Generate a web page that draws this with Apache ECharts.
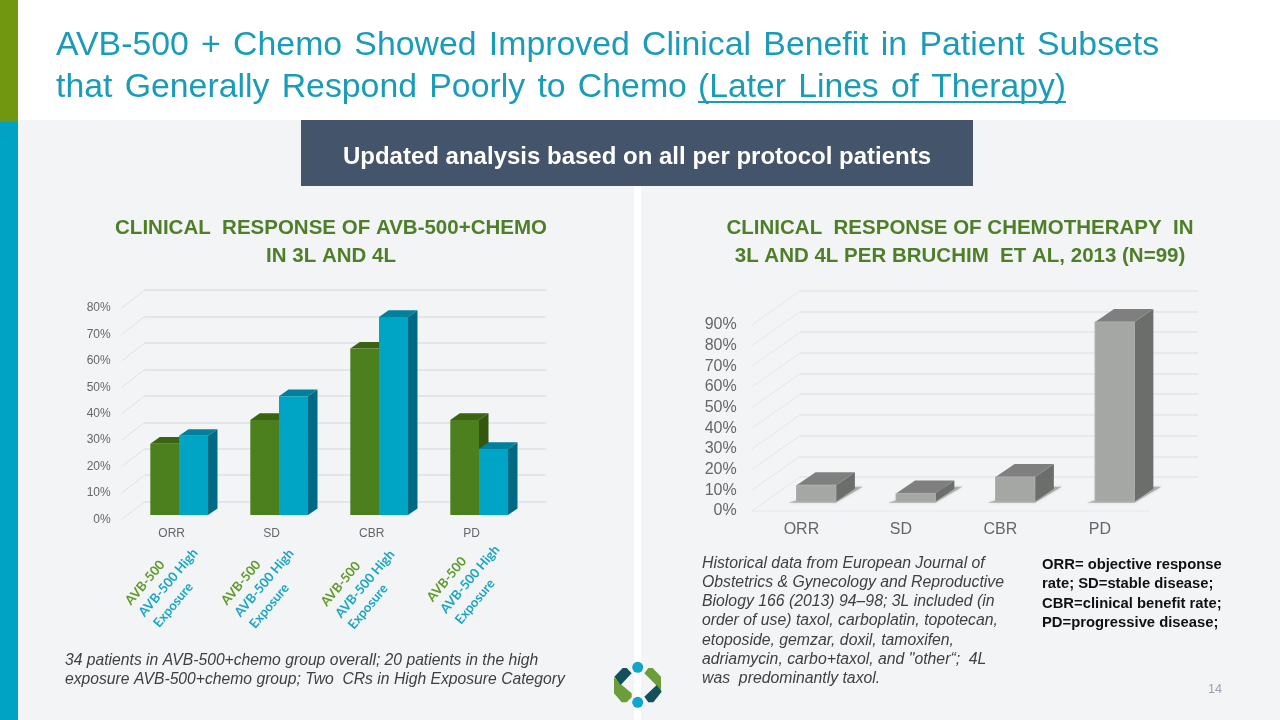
<!DOCTYPE html>
<html>
<head>
<meta charset="utf-8">
<style>html,body{margin:0;padding:0;background:#F2F4F6}#main{width:1280px;height:720px}</style>
<script src="https://cdn.jsdelivr.net/npm/echarts@6/dist/echarts.min.js"></script>
</head>
<body>
<div id="main"></div>
<script>
// ---- data ----
const leftCategories = ['ORR', 'SD', 'CBR', 'PD'];
const avb500Values = [27, 36, 63, 36];
const avb500HighValues = [30, 45, 75, 25];
const leftYTicks = [0, 10, 20, 30, 40, 50, 60, 70, 80];
const rightCategories = ['ORR', 'SD', 'CBR', 'PD'];
const chemoValues = [8, 4, 12, 87];
const rightYTicks = [0, 10, 20, 30, 40, 50, 60, 70, 80, 90];
const HS = '\u200A';
const titleLines = ['AVB-500 + Chemo Showed Improved Clinical Benefit in Patient Subsets',
                    'that Generally Respond Poorly to Chemo'];
const titleUnderlined = '(Later Lines of Therapy)';
const banner = 'Updated analysis based on all per protocol patients';
const leftHeading = 'CLINICAL  RESPONSE OF AVB-500+CHEMO\nIN 3L AND 4L';
const rightHeading = 'CLINICAL  RESPONSE OF CHEMOTHERAPY  IN\n3L AND 4L PER BRUCHIM  ET AL, 2013 (N=99)';
const leftNote = ['34 patients in AVB-500+chemo group overall; 20 patients in the high',
                  'exposure AVB-500+chemo group; Two  CRs in High Exposure Category'];
const rightNote = ['Historical data from European Journal of','Obstetrics & Gynecology and Reproductive',
  'Biology 166 (2013) 94\u201398; 3L included (in','order of use) taxol, carboplatin, topotecan,',
  'etoposide, gemzar, doxil, tamoxifen,','adriamycin, carbo+taxol, and "other\u201c;  4L','was  predominantly taxol.'];
const definitions = ['ORR= objective response','rate; SD=stable disease;','CBR=clinical benefit rate;','PD=progressive disease;'];
const pageNumber = '14';
const legendGroups = [[145,582.7,168.3,582.7,173.3,605],[241,582.7,264.3,583,269.3,606],
                      [340.7,584,365,584,368,606.7],[446.7,579.3,470,579.3,475,601.7]];

// ---- marks ----
function barSeries(axisIdx, values, o) {
  return {
    type: 'custom', xAxisIndex: axisIdx, yAxisIndex: axisIdx, clip: false, silent: true, z: 5,
    encode: {x: 0, y: 1},
    data: values.map((v, i) => [i, v]),
    renderItem(params, api) {
      const cat = api.value(0), val = api.value(1);
      const b = api.coord([cat, 0]), t = api.coord([cat, val]);
      const x = b[0] + o.offset, w = o.width, y0 = b[1] - o.planeDy, y1 = t[1] - o.planeDy;
      const d = o.depth;
      const poly = (points, fill, extra) => ({type: 'polygon', shape: {points},
        style: Object.assign({fill}, extra || {}), silent: true});
      const kids = [];
      if (o.floor) kids.push(poly([[x - 8, y0 + 1], [x + w, y0 + 1], [x + w + 27, y0 - 15], [x + w + 5, y0 - 15]],
        'rgba(110,110,110,0.45)', {shadowBlur: 3, shadowColor: 'rgba(120,120,120,0.5)'}));
      kids.push(poly([[x + w, y0], [x + w + d[0], y0 - d[1]], [x + w + d[0], y1 - d[1]], [x + w, y1]], o.side));
      kids.push(poly([[x, y1], [x + d[0], y1 - d[1]], [x + w + d[0], y1 - d[1]], [x + w, y1]], o.top));
      kids.push(poly([[x, y0], [x + w, y0], [x + w, y1], [x, y1]], o.front,
        o.edge ? {stroke: o.edge, lineWidth: 1} : null));
      return {type: 'group', children: kids};
    }
  };
}
function wallSeries(axisIdx, ticks, depth, color, frontLine) {
  return {
    type: 'custom', xAxisIndex: axisIdx, yAxisIndex: axisIdx, clip: false, silent: true, z: 1,
    encode: {x: 0, y: 1},
    data: ticks.map(v => [0, v]),
    renderItem(params, api) {
      const y = api.coord([0, api.value(1)])[1];
      const cs = params.coordSys;
      const kids = [{type: 'line', shape: {x1: cs.x, y1: y, x2: cs.x + depth[0], y2: y - depth[1]},
        style: {stroke: color, lineWidth: 1}, silent: true}];
      if (frontLine && api.value(1) === 0)
        kids.push({type: 'line', shape: {x1: cs.x, y1: y, x2: cs.x + cs.width, y2: y},
          style: {stroke: color, lineWidth: 1.2}, silent: true});
      return {type: 'group', children: kids};
    }
  };
}

const SANS = '"Liberation Sans", Arial, sans-serif';
function txt(text, x, y, font, fill, align, rot) {
  return {type: 'text', x, y, rotation: rot || 0, z: 20, silent: true,
    style: {text, font, fill, textAlign: align || 'left', textVerticalAlign: 'middle'}};
}
function box(x, y, w, h, fill, z) {
  return {type: 'rect', shape: {x, y, width: w, height: h}, style: {fill}, z: z === undefined ? -10 : z, silent: true};
}
function logo(points, fill) {
  return {type: 'polygon', shape: {points: points.map(p => [580 + p[0] / 3, 640 + p[1] / 3])}, style: {fill}, z: 10, silent: true};
}
const wide = s => s.replace(/ /g, ' ' + HS);
const G = [];
G.push(box(0, 0, 1280, 120, '#FFFFFF'));
G.push(box(0, 0, 18, 122, '#70970F'));
G.push(box(0, 122, 18, 598, '#00A3C4'));
G.push(box(634, 186, 7, 534, '#FFFFFF'));
G.push(box(301, 120, 672, 66, '#44546A'));
G.push(txt(wide(titleLines[0]), 56, 46, '33.85px ' + SANS, '#1A9BB7'));
G.push(txt(wide(titleLines[1]), 56, 88, '33.85px ' + SANS, '#1A9BB7'));
G.push(txt(wide(titleUnderlined), 698, 88, '33.7px ' + SANS, '#1A9BB7'));
G.push(box(698, 101, 368, 2, '#1A9BB7', 20));
G.push(txt(banner, 637, 157, 'bold 24px ' + SANS, '#FFFFFF', 'center'));
leftNote.forEach((s, i) => G.push(txt(s, 65, 661 + i * 19, 'italic 15.7px ' + SANS, '#404040')));
rightNote.forEach((s, i) => G.push(txt(s, 702, 563.5 + i * 19.2, 'italic 15.8px ' + SANS, '#404040')));
definitions.forEach((s, i) => G.push(txt(s, 1042, 565 + i * 19.3, 'bold 14.8px ' + SANS, '#111111')));
G.push(txt(pageNumber, 1222, 690, '12.5px ' + SANS, '#98A3B0', 'right'));
const ROT = 50 * Math.PI / 180;
legendGroups.forEach(g => {
  G.push(txt('AVB-500', g[0], g[1], 'bold 13px Lato', '#5F9A2B', 'center', ROT));
  G.push(txt('AVB-500 High', g[2], g[3], 'bold 13px Lato', '#19A6C4', 'center', ROT));
  G.push(txt('Exposure', g[4], g[5], 'bold 13px Lato', '#19A6C4', 'center', ROT));
});
// logo
G.push({type: 'circle', shape: {cx: 637.7, cy: 667.3, r: 5.5}, style: {fill: '#10A5C9'}, z: 10, silent: true});
G.push({type: 'circle', shape: {cx: 637.7, cy: 702.3, r: 5.5}, style: {fill: '#10A5C9'}, z: 10, silent: true});
G.push(logo([[102,112],[122,132],[155,160],[155,172],[140,187],[125,187],[102,160]], '#6B9E3A'));
G.push(logo([[193,100],[205,84],[218,84],[243,110],[243,158],[228,135]], '#6B9E3A'));
G.push(logo([[103,110],[128,84],[140,84],[155,100],[122,135]], '#14505C'));
G.push(logo([[193,170],[230,135],[245,155],[220,187],[205,187]], '#14505C'));

const gridLine = c => ({show: true, lineStyle: {color: c, width: 1.5}});
const option = {
  animation: false,
  backgroundColor: '#F2F4F6',
  title: [
    {text: leftHeading, left: 326, top: 209, textAlign: 'center',
     textStyle: {fontFamily: SANS, fontSize: 20.5, fontWeight: 'bold', color: '#4E7F28', lineHeight: 28, align: 'center'}},
    {text: rightHeading, left: 955, top: 209, textAlign: 'center',
     textStyle: {fontFamily: SANS, fontSize: 20.5, fontWeight: 'bold', color: '#4E7F28', lineHeight: 28, align: 'center'}}
  ],
  grid: [
    {left: 121.7, top: 308, width: 400, height: 211.4},
    {left: 145, top: 290, width: 401, height: 211.7},
    {left: 751.7, top: 325, width: 398, height: 186},
    {left: 800, top: 290.7, width: 398, height: 186.3}
  ],
  xAxis: [
    {type: 'category', gridIndex: 0, data: leftCategories, axisLine: {show: false}, axisTick: {show: false},
     axisLabel: {margin: 8, fontSize: 12, color: '#666666', fontFamily: SANS}},
    {type: 'category', gridIndex: 1, data: leftCategories, axisLine: {show: false}, axisTick: {show: false}, axisLabel: {show: false}},
    {type: 'category', gridIndex: 2, data: rightCategories, axisLine: {show: false}, axisTick: {show: false},
     axisLabel: {margin: 11, fontSize: 16, color: '#666666', fontFamily: SANS}},
    {type: 'category', gridIndex: 3, data: rightCategories, axisLine: {show: false}, axisTick: {show: false}, axisLabel: {show: false}}
  ],
  yAxis: [
    {type: 'value', gridIndex: 0, min: 0, max: 80, interval: 10, splitLine: {show: false}, axisLine: {show: false}, axisTick: {show: false},
     axisLabel: {margin: 11, fontSize: 12, color: '#666666', fontFamily: SANS, formatter: '{value}%'}},
    {type: 'value', gridIndex: 1, min: 0, max: 80, interval: 10, splitLine: gridLine('#DFE1E4'), axisLine: {show: false}, axisTick: {show: false}, axisLabel: {show: false}},
    {type: 'value', gridIndex: 2, min: 0, max: 90, interval: 10, splitLine: {show: false}, axisLine: {show: false}, axisTick: {show: false},
     axisLabel: {margin: 15, fontSize: 16, color: '#666666', fontFamily: SANS, formatter: '{value}%'}},
    {type: 'value', gridIndex: 3, min: 0, max: 90, interval: 10, splitLine: gridLine('#E4E6E9'), axisLine: {show: false}, axisTick: {show: false}, axisLabel: {show: false}}
  ],
  series: [
    wallSeries(0, leftYTicks, [23.3, 18], '#DFE1E4', false),
    wallSeries(2, rightYTicks, [48.3, 34], '#E4E6E9', true),
    barSeries(0, avb500Values, {offset: -21.4, width: 28.7, planeDy: 4.3, depth: [9.5, 6.7],
      front: '#4C801E', side: '#33570F', top: '#3A6312'}),
    barSeries(0, avb500HighValues, {offset: 7.3, width: 29, planeDy: 4.3, depth: [9.5, 6.7],
      front: '#00A5C6', side: '#006A85', top: '#00809A'}),
    barSeries(2, chemoValues, {offset: -4.9, width: 39.3, planeDy: 9.3, depth: [19, 13], floor: true,
      front: '#A5A7A4', side: '#6C6E6B', top: '#7F7F7F', edge: '#ADAFAC'})
  ],
  graphic: {elements: G}
};
const chart = echarts.init(document.getElementById('main'), null, {renderer: 'canvas'});
chart.setOption(option);
</script>
</body>
</html>
